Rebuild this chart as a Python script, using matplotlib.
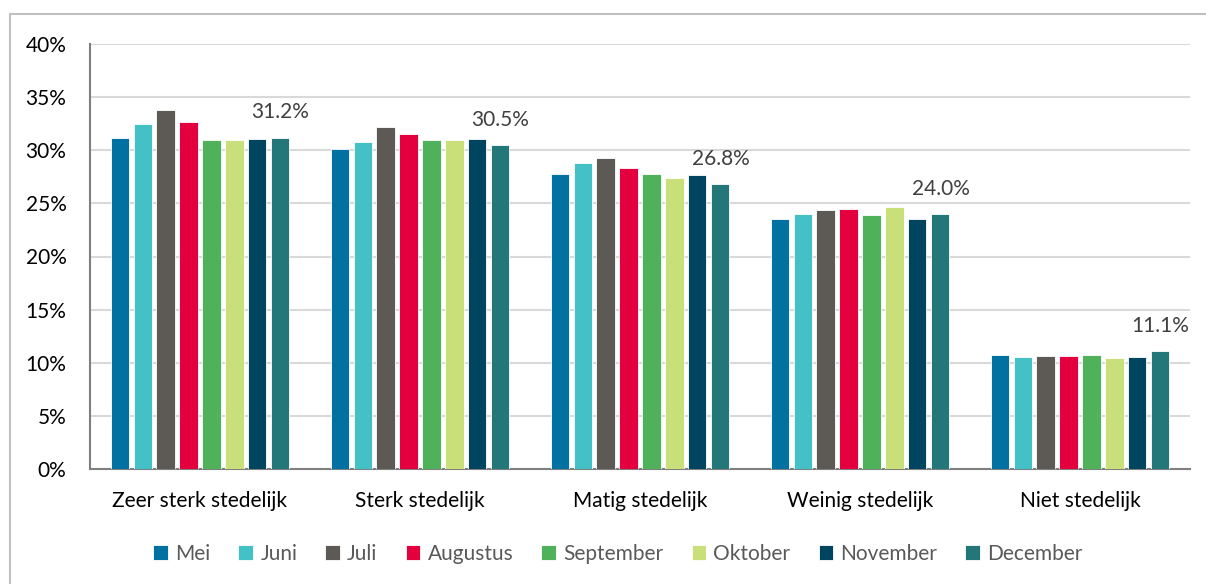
import matplotlib
matplotlib.use("Agg")
import matplotlib.pyplot as plt
import numpy as np
from matplotlib.patches import Rectangle

plt.rcParams['font.family'] = ['Lato', 'DejaVu Sans']

categories = ["Zeer sterk stedelijk", "Sterk stedelijk", "Matig stedelijk",
              "Weinig stedelijk", "Niet stedelijk"]
months = ["Mei", "Juni", "Juli", "Augustus", "September", "Oktober",
          "November", "December"]
mei = [31.15, 30.1, 27.8, 23.5, 10.7]
juni = [32.5, 30.8, 28.8, 24.0, 10.5]
juli = [33.8, 32.2, 29.3, 24.4, 10.6]
augustus = [32.7, 31.5, 28.3, 24.5, 10.6]
september = [31.0, 31.0, 27.8, 23.9, 10.7]
oktober = [31.0, 31.0, 27.4, 24.7, 10.45]
november = [31.1, 31.1, 27.7, 23.5, 10.5]
december = [31.2, 30.5, 26.8, 24.0, 11.1]
series = [mei, juni, juli, augustus, september, oktober, november, december]
colors = ["#0071A0", "#44C1C7", "#5D5955", "#E4003F", "#50B15B",
          "#C9DF79", "#004560", "#247779"]
yticks = [0, 5, 10, 15, 20, 25, 30, 35, 40]

fig = plt.figure(figsize=(12.06, 5.84), dpi=100)
ax = fig.add_axes([90/1206, 1-469/584, 1100/1206, 425/584])

x = np.arange(len(categories))
slot = 0.1045
bw = 0.082
for i, (vals, col, name) in enumerate(zip(series, colors, months)):
    offs = (i - 3.5) * slot
    bars = ax.bar(x + offs, [v/100 for v in vals], bw, color=col, label=name,
                  edgecolor='white', linewidth=0.6, zorder=3)
    if name == "December":
        ax.bar_label(bars, labels=[f"{v:.1f}%" for v in vals], padding=11,
                     fontsize=15, color="#404040")

ax.set_xlim(-0.5, len(categories) - 0.5)
ax.set_ylim(0, 0.40)
ax.set_yticks([t/100 for t in yticks])
ax.set_yticklabels([f"{t}%" for t in yticks], fontsize=15, color="black")
ax.set_xticks(x)
ax.set_xticklabels(categories, fontsize=15, color="black")
ax.tick_params(axis='x', length=0, pad=16)
ax.tick_params(axis='y', length=0, pad=17)
ax.grid(axis='y', color='#d9d9d9', linewidth=1.5, zorder=0)
for s in ['top', 'right']:
    ax.spines[s].set_visible(False)
ax.spines['left'].set_color('#7f7f7f')
ax.spines['bottom'].set_color('#7f7f7f')
ax.spines['left'].set_linewidth(1.5)
ax.spines['bottom'].set_linewidth(1.5)

leg = fig.legend(loc='center', bbox_to_anchor=(618/1206, 1-554/584), ncol=8,
                 frameon=False, fontsize=15, handlelength=0.7, handleheight=0.7,
                 handletextpad=0.35, columnspacing=1.35, labelcolor='#595959')

fig.patches.append(Rectangle((10/1206, -0.05), 1.1, 0.05 + 1 - 14/584,
                             transform=fig.transFigure, fill=False,
                             edgecolor='#bfbfbf', linewidth=1.5))

fig.savefig("out.png", dpi=100)
